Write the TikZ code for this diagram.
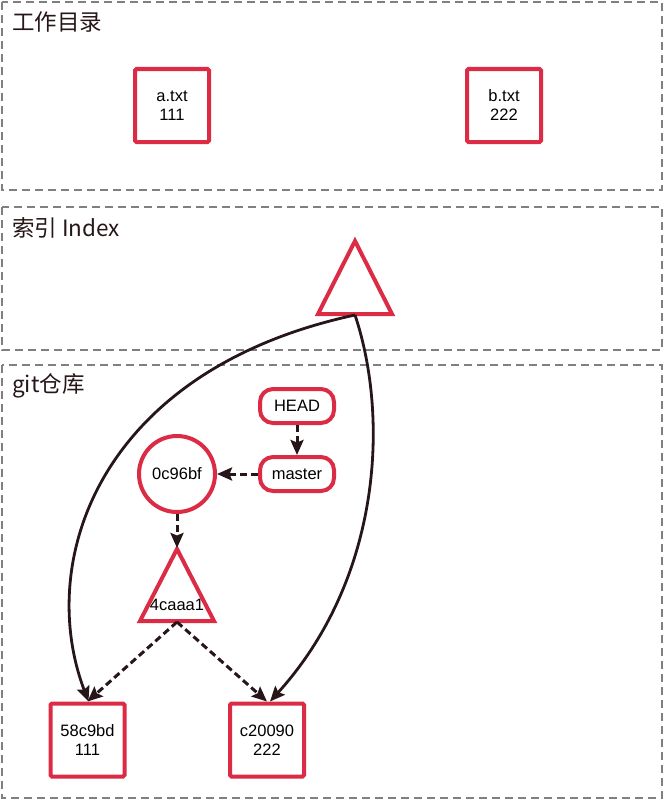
\documentclass[tikz,border=0pt]{standalone}
\usepackage{fontspec}
\setmainfont{Liberation Sans}
\newfontfamily\cjk{Noto Sans CJK SC}
\usetikzlibrary{arrows.meta}
\definecolor{myred}{RGB}{220,43,68}
\definecolor{myline}{RGB}{38,22,24}
\definecolor{mygrey}{RGB}{128,128,128}
\tikzset{
  panel/.style={draw=mygrey,line width=2pt,dash pattern=on 8pt off 5pt},
  ptitle/.style={anchor=west,inner sep=0pt,font=\cjk\fontsize{22.5}{26}\selectfont,text=myline},
  filebox/.style={draw=myred,line width=4pt,rounded corners=1.5pt,minimum width=74pt,minimum height=73pt,align=center,font=\fontsize{16.5}{19}\selectfont,inner sep=0pt},
  refbox/.style={draw=myred,line width=4pt,rounded corners=13pt,minimum width=74pt,minimum height=34pt,font=\fontsize{16.5}{19}\selectfont,inner sep=0pt},
  commit/.style={draw=myred,line width=4pt,circle,minimum size=76pt,font=\fontsize{16.5}{19}\selectfont,inner sep=0pt},
  tri/.style={draw=myred,line width=4pt,line join=miter},
  darr/.style={draw=myline,line width=3pt,dash pattern=on 7pt off 4pt,-{Stealth[length=15pt,width=13pt,inset=2.5pt]}},
  sarr/.style={draw=myline,line width=2.8pt,-{Stealth[length=15pt,width=13pt,inset=2.5pt]}},
  lbl/.style={font=\fontsize{16.5}{19}\selectfont,inner sep=0pt}
}
\begin{document}
\begin{tikzpicture}[x=1pt,y=-1pt]
\useasboundingbox (0,0) rectangle (664,800);
% panels
\draw[panel] (2,2) rectangle (662,190);
\draw[panel] (2,207) rectangle (662,350);
\draw[panel] (2,365) rectangle (662,798);
\node[ptitle] (t1) at (12,22) {工作目录};
\node[ptitle] (t2) at (12,228) {索引 Index};
\node[ptitle] (t3) at (12,386) {git仓库};
% working dir
\node[filebox] (a) at (172,105.5) {a.txt\\111};
\node[filebox] (b) at (504,105.5) {b.txt\\222};
% index triangle
\draw[tri] (355,241) -- (392,314) -- (318,314) -- cycle;
\coordinate (idx) at (355,315);
% repo
\node[refbox] (head) at (297,406) {HEAD};
\node[refbox] (master) at (297,474) {master};
\node[commit] (c0) at (177,474) {0c96bf};
\draw[tri] (177,549) -- (214,621) -- (140,621) -- cycle;
\node[lbl] (tree) at (177,605) {4caaa1};
\coordinate (treetop) at (177,548);
\coordinate (treebot) at (177,622);
\node[filebox] (blobA) at (87.5,740) {58c9bd\\111};
\node[filebox] (blobB) at (267,740) {c20090\\222};
% arrows
\draw[darr] (head.south) -- (master.north);
\draw[darr] (master.west) -- (c0.east);
\draw[darr] (c0.south) -- (treetop);
\draw[darr] (treebot) -- (blobA.north);
\draw[darr] (treebot) -- (blobB.north);
\draw[sarr] (idx) .. controls (100,370) and (35,560) .. ([xshift=1pt]blobA.north);
\draw[sarr] (idx) .. controls (390,420) and (380,580) .. ([xshift=3pt]blobB.north);
\end{tikzpicture}
\end{document}
